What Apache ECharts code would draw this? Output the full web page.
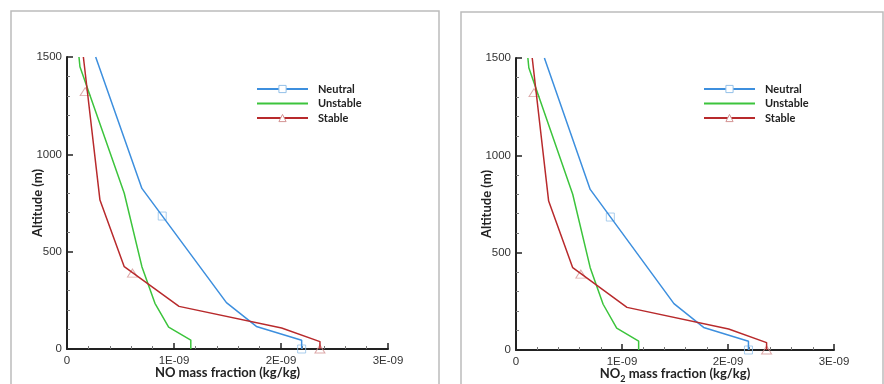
<!DOCTYPE html>
<html>
<head>
<meta charset="utf-8">
<script src="https://cdn.jsdelivr.net/npm/echarts@6/dist/echarts.min.js"></script>
<style>
  html, body { margin: 0; background: #fff; }
  #main { width: 884px; height: 384px; }
</style>
</head>
<body>
<div id="main"></div>
<script>
// series names
var seriesNames = ['Neutral', 'Unstable', 'Stable'];

// profiles, [mass fraction (kg/kg), altitude (m)]
// (both panels show the same curves)
var neutral = [[0.268e-9, 1500], [0.70e-9, 825], [1.49e-9, 238], [1.77e-9, 116], [2.193e-9, 45], [2.193e-9, 0]];
var unstable = [[0.112e-9, 1500], [0.121e-9, 1450], [0.535e-9, 800], [0.70e-9, 423], [0.822e-9, 235], [0.95e-9, 112], [1.157e-9, 46], [1.157e-9, 0]];
var stable = [[0.153e-9, 1500], [0.308e-9, 765], [0.535e-9, 423], [1.047e-9, 219], [2.006e-9, 108], [2.364e-9, 38], [2.364e-9, 0]];

// symbols drawn along the curves
var neutralMarks = [[0.89e-9, 683], [2.193e-9, 0]];
var stableMarks = [[0.17e-9, 1322], [0.612e-9, 390], [2.364e-9, 0]];

// tick labels
var xTickLabels = ['0', '1E-09', '2E-09', '3E-09'];
var xTitles = ['{b|NO mass fraction (kg/kg)}', '{b|NO}{s|2}{b| mass fraction (kg/kg)}'];
var yTitle = 'Altitude (m)';

var colors = { Neutral: '#3d8fde', Unstable: '#3cc43c', Stable: '#b82a2c' };
var lines = { Neutral: neutral, Unstable: unstable, Stable: stable };

var chart = echarts.init(document.getElementById('main'));

var grids = [
  { left: 67, top: 57, width: 321, height: 292, outerBoundsMode: 'none', containLabel: false },
  { left: 516, top: 58, width: 318, height: 292, outerBoundsMode: 'none', containLabel: false }
];

function xAxisFor(i) {
  return {
    type: 'value', gridIndex: i, min: 0, max: 3e-9, interval: 1e-9,
    name: xTitles[i], nameLocation: 'middle', nameGap: 14, nameMoveOverlap: false,
    nameTextStyle: {
      rich: {
        b: { fontFamily: 'Lato', fontWeight: 'bold', fontSize: 13, color: '#222', lineHeight: 20 },
        s: { fontFamily: 'Lato', fontWeight: 'bold', fontSize: 9, color: '#222', lineHeight: 20, verticalAlign: 'bottom' }
      }
    },
    axisLine: { show: true, lineStyle: { color: '#222', width: 2 } },
    axisTick: { show: true, inside: true, length: 6, lineStyle: { color: '#222', width: 1.5 } },
    minorTick: { show: true, splitNumber: 5, length: 3, lineStyle: { color: '#777', width: 1 } },
    splitLine: { show: false },
    axisLabel: {
      margin: 6, fontFamily: 'Liberation Sans', fontSize: 11.5, color: '#333',
      formatter: function (v) { return xTickLabels[Math.round(v / 1e-9)]; }
    }
  };
}

function yAxisFor(i) {
  return {
    type: 'value', gridIndex: i, min: 0, max: 1500, interval: 500,
    name: yTitle, nameLocation: 'middle', nameGap: 23, nameMoveOverlap: false,
    nameTextStyle: { fontFamily: 'Lato', fontWeight: 'bold', fontSize: 13, color: '#222' },
    axisLine: { show: true, lineStyle: { color: '#222', width: 2 } },
    axisTick: { show: true, inside: true, length: 6, lineStyle: { color: '#222', width: 1.5 } },
    minorTick: { show: true, splitNumber: 5, length: 3, lineStyle: { color: '#777', width: 1 } },
    splitLine: { show: false },
    axisLabel: {
      margin: 5, fontFamily: 'Liberation Sans', fontSize: 11.5, color: '#333',
      formatter: function (v) { return String(v); }
    }
  };
}

var series = [];
[0, 1].forEach(function (i) {
  seriesNames.forEach(function (name) {
    series.push({
      name: name, type: 'line', xAxisIndex: i, yAxisIndex: i,
      data: lines[name],
      symbol: name === 'Neutral' ? 'rect' : (name === 'Stable' ? 'triangle' : 'none'),
      showSymbol: false, silent: true,
      lineStyle: { color: colors[name], width: 1.5 },
      itemStyle: { color: colors[name] }
    });
  });
  series.push({
    name: 'Neutral symbols', type: 'scatter', xAxisIndex: i, yAxisIndex: i, clip: false, silent: true,
    data: neutralMarks, symbol: 'rect', symbolSize: 8,
    itemStyle: { color: 'rgba(255,255,255,0)', borderColor: '#93c0e8', borderWidth: 1 }
  });
  series.push({
    name: 'Stable symbols', type: 'scatter', xAxisIndex: i, yAxisIndex: i, clip: false, silent: true,
    data: stableMarks, symbol: 'triangle', symbolSize: [10, 8],
    itemStyle: { color: 'rgba(255,255,255,0)', borderColor: '#d49494', borderWidth: 1 }
  });
});

function legendFor(left) {
  return {
    orient: 'vertical', left: left, top: 83, padding: 0,
    itemWidth: 51, itemHeight: 9, itemGap: 2.5,
    selectedMode: false,
    textStyle: { fontFamily: 'Lato', fontWeight: 'bold', fontSize: 11, color: '#222', lineHeight: 12, padding: [0, 0, 0, 5] },
    data: [
      { name: 'Neutral', itemStyle: { color: '#fff', borderColor: '#93c0e8', borderWidth: 1 } },
      { name: 'Unstable', itemStyle: { opacity: 0 } },
      { name: 'Stable', itemStyle: { color: '#fff', borderColor: '#d49494', borderWidth: 1 } }
    ]
  };
}

var option = {
  backgroundColor: '#fff',
  animation: false,
  graphic: [
    { type: 'rect', shape: { x: 11, y: 11, width: 428, height: 420 }, style: { fill: 'none', stroke: '#bcbcbc', lineWidth: 1.5 }, silent: true },
    { type: 'rect', shape: { x: 461, y: 12, width: 422, height: 420 }, style: { fill: 'none', stroke: '#bcbcbc', lineWidth: 1.5 }, silent: true }
  ],
  legend: [legendFor(256), legendFor(703)],
  grid: grids,
  xAxis: [xAxisFor(0), xAxisFor(1)],
  yAxis: [yAxisFor(0), yAxisFor(1)],
  series: series
};

chart.setOption(option);
</script>
</body>
</html>
